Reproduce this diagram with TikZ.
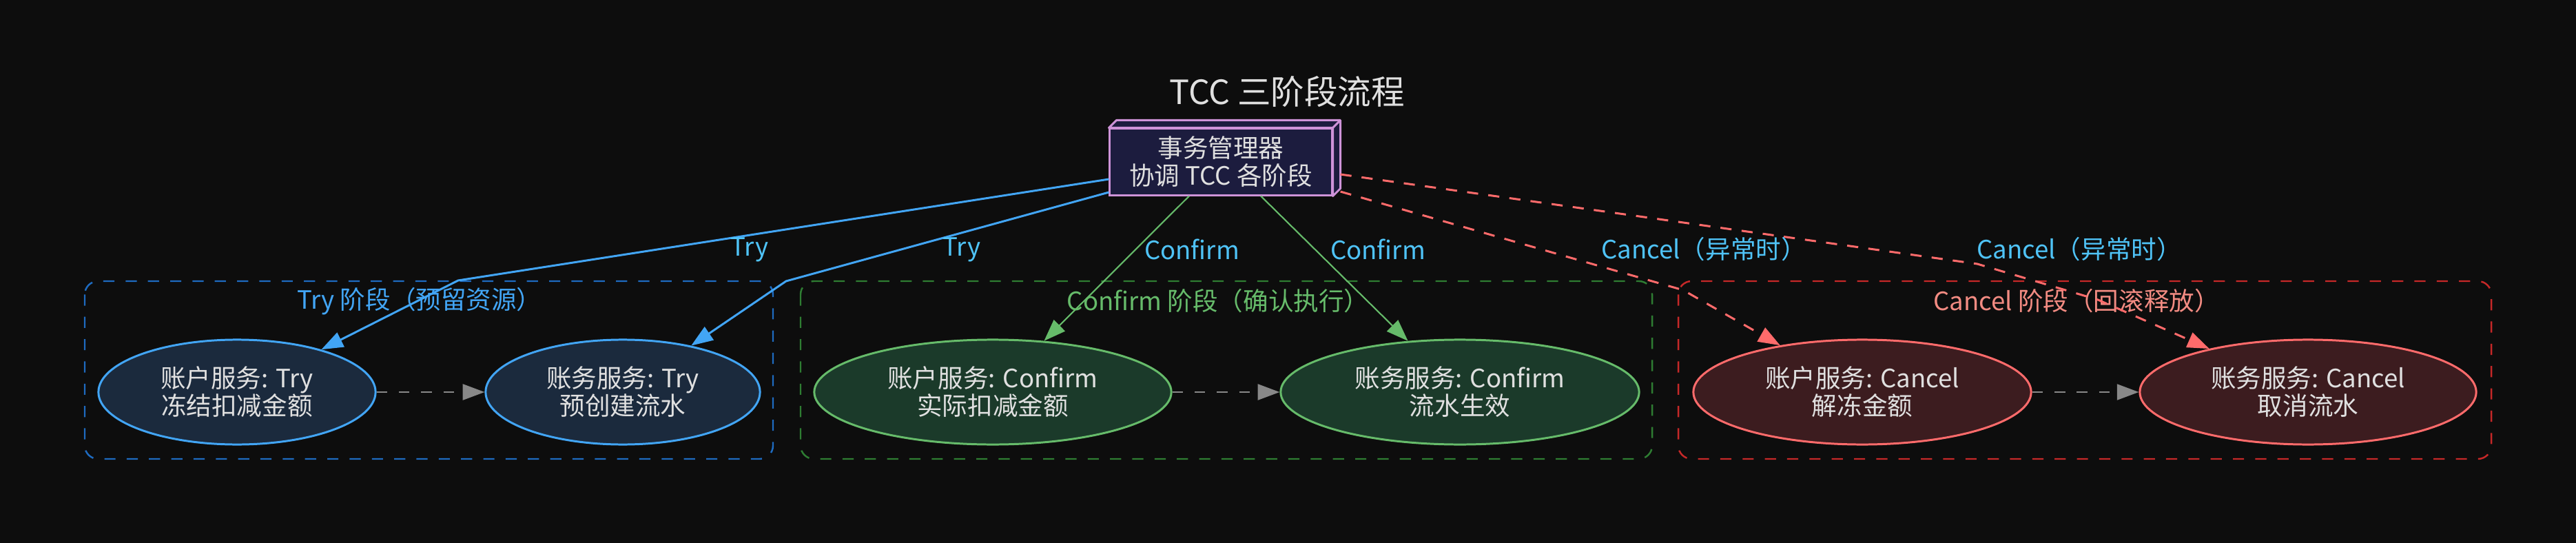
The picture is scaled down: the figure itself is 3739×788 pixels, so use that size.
\documentclass[tikz,border=0pt]{standalone}
\usepackage{fontspec}
\setmainfont{Noto Sans CJK SC}
\usetikzlibrary{arrows.meta,shapes.geometric}
\definecolor{bg}{HTML}{0D0D0D}
\definecolor{fg}{HTML}{E0E0E0}
\definecolor{mgrfill}{HTML}{1C1C3E}
\definecolor{mgrline}{HTML}{CE93D8}
\definecolor{edgetext}{HTML}{4FC3F7}
\definecolor{tryline}{HTML}{42A5F5}
\definecolor{tryfill}{HTML}{1B2A3D}
\definecolor{trybox}{HTML}{1E6BC0}
\definecolor{cfmline}{HTML}{66BB6A}
\definecolor{cfmfill}{HTML}{1B3A2A}
\definecolor{cfmbox}{HTML}{2E7D32}
\definecolor{cclline}{HTML}{FF6B6B}
\definecolor{cclfill}{HTML}{3C1C1F}
\definecolor{cclbox}{HTML}{C62828}
\definecolor{cclhead}{HTML}{F28B82}
\definecolor{seqgray}{HTML}{888888}
\begin{document}
\begin{tikzpicture}[x=0.01cm,y=-0.01cm,
  every node/.style={font=\fontsize{10.4pt}{11.4pt}\selectfont,text=fg},
  svc/.style={ellipse,draw,line width=0.85pt,align=center,inner sep=0pt,minimum height=1.52cm},
  phase/.style={draw,line width=0.7pt,dash pattern=on 4.6pt off 4.6pt,rounded corners=5.5pt},
  tip/.style={-{Triangle[length=9pt,width=6.5pt]}},
  seqedge/.style={tip,draw=seqgray,line width=0.8pt,dash pattern=on 4.4pt off 4.8pt},
  tryedge/.style={tip,draw=tryline,line width=0.85pt},
  cfmedge/.style={tip,draw=cfmline,line width=0.6pt},
  ccledge/.style={tip,draw=cclline,line width=0.85pt,dash pattern=on 4.6pt off 4.2pt},
  edgelbl/.style={text=edgetext}]
\useasboundingbox[fill=bg] (0,0) rectangle (3739,788);

% title and manager
\node (title) at (1868,133) {\fontsize{13.8pt}{15pt}\selectfont TCC 三阶段流程};
\node[draw=mgrline,fill=mgrfill,line width=0.85pt,align=center,minimum width=3.22cm,minimum height=0.96cm,inner sep=0pt] (mgr) at (1772,235) {事务管理器\\协调 TCC 各阶段};
\draw[draw=mgrline,fill=mgrfill,line width=0.85pt,line join=round] (mgr.north west) -- ++(11,-11) -- ([shift={(11,-11)}]mgr.north east) -- ([shift={(11,-11)}]mgr.south east) -- (mgr.south east) -- (mgr.north east) -- cycle;
\draw[mgrline,line width=0.85pt] (mgr.north east) -- ++(11,-11);

% phase boxes
\draw[phase,trybox] (123,408) rectangle (1122,666);
\draw[phase,cfmbox] (1162,408) rectangle (2398,666);
\draw[phase,cclbox] (2436,408) rectangle (3616,666);
\node[text=tryline] (tryhead) at (609,437) {Try 阶段（预留资源）};
\node[text=cfmline] (cfmhead) at (1768,437) {Confirm 阶段（确认执行）};
\node[text=cclhead] (cclhead) at (3014,437) {Cancel 阶段（回滚释放）};

% services
\node[svc,draw=tryline,fill=tryfill,minimum width=4.02cm] (acctTry) at (344,569) {账户服务: Try\\冻结扣减金额};
\node[svc,draw=tryline,fill=tryfill,minimum width=3.98cm] (billTry) at (904,569) {账务服务: Try\\预创建流水};
\node[svc,draw=cfmline,fill=cfmfill,minimum width=5.18cm] (acctCfm) at (1441,569) {账户服务: Confirm\\实际扣减金额};
\node[svc,draw=cfmline,fill=cfmfill,minimum width=5.2cm] (billCfm) at (2119,569) {账务服务: Confirm\\流水生效};
\node[svc,draw=cclline,fill=cclfill,minimum width=4.9cm] (acctCcl) at (2703,569) {账户服务: Cancel\\解冻金额};
\node[svc,draw=cclline,fill=cclfill,minimum width=4.88cm] (billCcl) at (3350,569) {账务服务: Cancel\\取消流水};

% bends
\coordinate (tryA) at (665,407);
\coordinate (tryB) at (1141,408);
\coordinate (cclA) at (2443,421);
\coordinate (cclB) at (2870,383);
\coordinate (cclC) at (3045,435);

% edges
\draw[tryedge] ([yshift=-0.25cm]mgr.west) -- (tryA) -- (acctTry);
\draw[tryedge] ([yshift=-0.44cm]mgr.west) -- (tryB) -- (billTry);
\draw[cfmedge] ([xshift=-0.46cm]mgr.south) -- (acctCfm);
\draw[cfmedge] ([xshift=0.58cm]mgr.south) -- (billCfm);
\draw[ccledge] ([xshift=0.11cm,yshift=-0.43cm]mgr.east) -- (cclA) -- (acctCcl);
\draw[ccledge] ([xshift=0.11cm,yshift=-0.18cm]mgr.east) -- (cclB) -- (cclC) -- (billCcl);
\draw[seqedge] (acctTry) -- (billTry);
\draw[seqedge] (acctCfm) -- (billCfm);
\draw[seqedge] (acctCcl) -- (billCcl);

% edge labels
\node[edgelbl] (lblTryA) at (1088,362) {Try};
\node[edgelbl] (lblTryB) at (1396,362) {Try};
\node[edgelbl] (lblCfmA) at (1730,362) {Confirm};
\node[edgelbl] (lblCfmB) at (2000,362) {Confirm};
\node[edgelbl] (lblCclA) at (2473,362) {Cancel（异常时）};
\node[edgelbl] (lblCclB) at (3018,362) {Cancel（异常时）};
\end{tikzpicture}
\end{document}
